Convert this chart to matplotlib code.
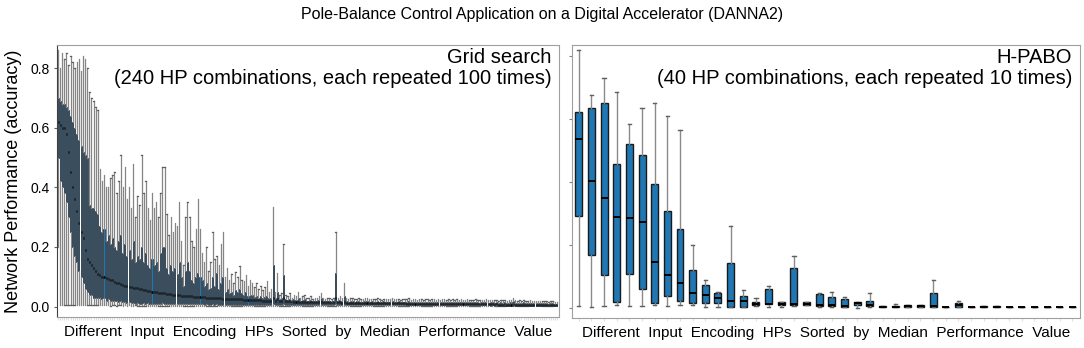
import matplotlib
matplotlib.use('Agg')
import matplotlib.pyplot as plt

plt.rcParams['font.family'] = ['Liberation Sans', 'DejaVu Sans']

# Grid search: 240 HP combinations (sorted by median)
grid_hi = [0.86, 0.80, 0.85, 0.83, 0.85, 0.81, 0.84, 0.82, 0.80, 0.82, 0.83, 0.79, 0.84, 0.83, 0.80, 0.72, 0.70, 0.69, 0.67, 0.66,
           0.46, 0.42, 0.44, 0.40, 0.40, 0.43, 0.44, 0.45, 0.38, 0.42, 0.51, 0.40, 0.47, 0.36, 0.40, 0.33, 0.48, 0.30, 0.37, 0.34,
           0.51, 0.38, 0.42, 0.33, 0.29, 0.38, 0.33, 0.35, 0.30, 0.38, 0.47, 0.47, 0.31, 0.24, 0.30, 0.25, 0.28, 0.27, 0.35, 0.22,
           0.14, 0.30, 0.35, 0.30, 0.22, 0.20, 0.26, 0.36, 0.26, 0.18, 0.15, 0.20, 0.12, 0.15, 0.25, 0.16, 0.17, 0.14, 0.21, 0.25,
           0.10, 0.13, 0.09, 0.11, 0.08, 0.115, 0.10, 0.137, 0.09, 0.085, 0.106, 0.07, 0.09, 0.08, 0.065, 0.078, 0.06, 0.07, 0.055, 0.065,
           0.086, 0.05, 0.06, 0.333, 0.05, 0.112, 0.04, 0.045, 0.21, 0.04, 0.035, 0.045, 0.03, 0.04, 0.035, 0.05, 0.03, 0.035, 0.04, 0.03,
           0.03, 0.035, 0.025, 0.03, 0.03, 0.035, 0.047, 0.03, 0.025, 0.03, 0.028, 0.025, 0.03, 0.25, 0.03, 0.035, 0.028, 0.078, 0.03, 0.025,
           0.028, 0.03, 0.025, 0.027, 0.03, 0.026, 0.024, 0.028, 0.03, 0.025, 0.027, 0.024, 0.026, 0.03, 0.025, 0.023, 0.027, 0.025, 0.024, 0.026,
           0.028, 0.024, 0.025, 0.027, 0.023, 0.026, 0.025, 0.024, 0.028, 0.023, 0.025, 0.026, 0.022, 0.025, 0.027, 0.023, 0.024, 0.026, 0.022, 0.024,
           0.025, 0.023, 0.026, 0.022, 0.024, 0.025, 0.023, 0.027, 0.022, 0.024, 0.023, 0.025, 0.022, 0.024, 0.023, 0.021, 0.025, 0.022, 0.023, 0.021,
           0.024, 0.022, 0.021, 0.023, 0.022, 0.024, 0.021, 0.022, 0.023, 0.021, 0.022, 0.020, 0.023, 0.021, 0.022, 0.020, 0.021, 0.022, 0.030, 0.021,
           0.020, 0.021, 0.019, 0.022, 0.020, 0.019, 0.021, 0.020, 0.019, 0.020, 0.018, 0.019, 0.020, 0.018, 0.019, 0.017, 0.018, 0.019, 0.017, 0.016]
grid_q3 = [0.70, 0.69, 0.68, 0.68, 0.67, 0.66, 0.64, 0.62, 0.60, 0.58, 0.56, 0.54, 0.52, 0.51, 0.50, 0.34, 0.33, 0.33, 0.32, 0.31,
           0.27, 0.25, 0.26, 0.22, 0.24, 0.21, 0.23, 0.20, 0.19, 0.22, 0.24, 0.18, 0.21, 0.17, 0.19, 0.16, 0.22, 0.15, 0.17, 0.16,
           0.20, 0.15, 0.18, 0.14, 0.13, 0.16, 0.14, 0.15, 0.12, 0.18, 0.20, 0.20, 0.13, 0.11, 0.14, 0.12, 0.13, 0.11, 0.15, 0.10,
           0.07, 0.12, 0.15, 0.12, 0.09, 0.08, 0.10, 0.114, 0.10, 0.09, 0.07, 0.08, 0.06, 0.062, 0.10, 0.07, 0.112, 0.06, 0.08, 0.10,
           0.05, 0.06, 0.045, 0.05, 0.04, 0.055, 0.05, 0.06, 0.045, 0.04, 0.05, 0.035, 0.04, 0.04, 0.032, 0.036, 0.03, 0.034, 0.03, 0.032,
           0.035, 0.03, 0.03, 0.14, 0.03, 0.05, 0.025, 0.028, 0.106, 0.025, 0.022, 0.027, 0.02, 0.025, 0.022, 0.03, 0.02, 0.022, 0.025, 0.02,
           0.02, 0.022, 0.018, 0.02, 0.02, 0.022, 0.028, 0.02, 0.018, 0.02, 0.018, 0.017, 0.02, 0.112, 0.02, 0.022, 0.018, 0.036, 0.02, 0.017,
           0.018, 0.02, 0.017, 0.018, 0.02, 0.017, 0.016, 0.018, 0.02, 0.017, 0.018, 0.016, 0.017, 0.019, 0.017, 0.016, 0.018, 0.017, 0.016, 0.017,
           0.018, 0.016, 0.017, 0.018, 0.015, 0.017, 0.016, 0.016, 0.018, 0.015, 0.016, 0.017, 0.015, 0.016, 0.017, 0.015, 0.016, 0.017, 0.015, 0.016,
           0.016, 0.015, 0.017, 0.014, 0.016, 0.016, 0.015, 0.017, 0.014, 0.015, 0.015, 0.016, 0.014, 0.015, 0.015, 0.014, 0.016, 0.014, 0.015, 0.014,
           0.015, 0.014, 0.013, 0.015, 0.014, 0.015, 0.013, 0.014, 0.015, 0.013, 0.014, 0.013, 0.014, 0.013, 0.014, 0.012, 0.013, 0.014, 0.018, 0.013,
           0.013, 0.013, 0.012, 0.014, 0.012, 0.012, 0.013, 0.012, 0.012, 0.012, 0.011, 0.012, 0.012, 0.011, 0.011, 0.010, 0.011, 0.011, 0.010, 0.010]
grid_med = [0.62, 0.61, 0.60, 0.60, 0.58, 0.52, 0.45, 0.40, 0.36, 0.32, 0.28, 0.25, 0.23, 0.19, 0.16, 0.15, 0.14, 0.13, 0.12, 0.11,
            0.105, 0.10, 0.098, 0.095, 0.092, 0.09, 0.088, 0.082, 0.08, 0.078, 0.075, 0.072, 0.07, 0.068, 0.066, 0.065, 0.064, 0.063, 0.062, 0.06,
            0.058, 0.056, 0.055, 0.053, 0.052, 0.05, 0.05, 0.048, 0.047, 0.046, 0.045, 0.044, 0.043, 0.042, 0.041, 0.04, 0.04, 0.039, 0.038, 0.037,
            0.036, 0.035, 0.035, 0.034, 0.034, 0.033, 0.033, 0.032, 0.032, 0.031, 0.031, 0.03, 0.03, 0.03, 0.029, 0.029, 0.028, 0.028, 0.028, 0.027,
            0.027, 0.026, 0.026, 0.025, 0.025, 0.025, 0.024, 0.024, 0.024, 0.023, 0.023, 0.023, 0.022, 0.022, 0.022, 0.021, 0.021, 0.021, 0.02, 0.02,
            0.02, 0.02, 0.02, 0.03, 0.019, 0.025, 0.019, 0.019, 0.03, 0.018, 0.018, 0.018, 0.018, 0.017, 0.017, 0.017, 0.017, 0.016, 0.016, 0.016,
            0.016, 0.016, 0.015, 0.015, 0.015, 0.015, 0.015, 0.015, 0.014, 0.014, 0.014, 0.014, 0.014, 0.03, 0.014, 0.014, 0.013, 0.015, 0.013, 0.013,
            0.013, 0.013, 0.013, 0.013, 0.013, 0.012, 0.012, 0.012, 0.012, 0.012, 0.012, 0.012, 0.012, 0.012, 0.012, 0.011, 0.011, 0.011, 0.011, 0.011,
            0.011, 0.011, 0.011, 0.011, 0.011, 0.011, 0.011, 0.010, 0.010, 0.010, 0.010, 0.010, 0.010, 0.010, 0.010, 0.010, 0.010, 0.010, 0.010, 0.010,
            0.010, 0.010, 0.010, 0.009, 0.009, 0.009, 0.009, 0.009, 0.009, 0.009, 0.009, 0.009, 0.009, 0.009, 0.009, 0.009, 0.009, 0.008, 0.008, 0.008,
            0.008, 0.008, 0.008, 0.008, 0.008, 0.008, 0.008, 0.008, 0.008, 0.008, 0.008, 0.007, 0.007, 0.007, 0.007, 0.007, 0.007, 0.007, 0.007, 0.007,
            0.007, 0.007, 0.007, 0.007, 0.007, 0.006, 0.006, 0.006, 0.006, 0.006, 0.006, 0.006, 0.006, 0.006, 0.006, 0.006, 0.005, 0.005, 0.005, 0.005]
grid_q1 = [0.50, 0.42, 0.40, 0.38, 0.35, 0.30, 0.25, 0.20, 0.17, 0.15, 0.12, 0.10, 0.08, 0.06, 0.05, 0.04, 0.04, 0.03, 0.03, 0.03,
           0.03, 0.025, 0.03, 0.02, 0.025, 0.02, 0.02, 0.018, 0.02, 0.015, 0.018, 0.015, 0.015, 0.012, 0.015, 0.012, 0.012, 0.01, 0.012, 0.01,
           0.010, 0.012, 0.010, 0.011, 0.010, 0.010, 0.009, 0.010, 0.009, 0.010, 0.011, 0.010, 0.009, 0.009, 0.010, 0.009, 0.009, 0.008, 0.009, 0.008,
           0.008, 0.009, 0.009, 0.008, 0.008, 0.008, 0.008, 0.009, 0.008, 0.008, 0.007, 0.008, 0.007, 0.007, 0.008, 0.007, 0.008, 0.007, 0.007, 0.007,
           0.007, 0.007, 0.007, 0.007, 0.007, 0.007, 0.007, 0.007, 0.007, 0.006, 0.007, 0.006, 0.006, 0.006, 0.006, 0.006, 0.006, 0.006, 0.006, 0.006,
           0.006, 0.006, 0.006, 0.008, 0.006, 0.007, 0.006, 0.006, 0.008, 0.006, 0.006, 0.006, 0.006, 0.006, 0.006, 0.006, 0.006, 0.006, 0.005, 0.005,
           0.005, 0.005, 0.005, 0.005, 0.005, 0.005, 0.005, 0.005, 0.005, 0.005, 0.005, 0.005, 0.005, 0.008, 0.005, 0.005, 0.005, 0.006, 0.005, 0.005,
           0.005, 0.005, 0.005, 0.005, 0.005, 0.005, 0.005, 0.005, 0.005, 0.005, 0.005, 0.005, 0.005, 0.005, 0.005, 0.005, 0.005, 0.005, 0.005, 0.005,
           0.005, 0.005, 0.005, 0.005, 0.004, 0.005, 0.004, 0.005, 0.004, 0.004, 0.005, 0.004, 0.004, 0.004, 0.005, 0.004, 0.004, 0.004, 0.004, 0.004,
           0.004, 0.004, 0.004, 0.004, 0.004, 0.004, 0.004, 0.004, 0.004, 0.004, 0.004, 0.004, 0.004, 0.004, 0.004, 0.004, 0.004, 0.004, 0.004, 0.004,
           0.004, 0.004, 0.004, 0.004, 0.004, 0.004, 0.004, 0.003, 0.004, 0.003, 0.004, 0.003, 0.003, 0.003, 0.004, 0.003, 0.003, 0.003, 0.004, 0.003,
           0.003, 0.003, 0.003, 0.003, 0.003, 0.003, 0.003, 0.003, 0.003, 0.003, 0.003, 0.003, 0.003, 0.003, 0.003, 0.003, 0.003, 0.003, 0.003, 0.003]
grid_lo = [0.20, 0.006, 0.004, 0.005, 0.004, 0.006, 0.005, 0.004, 0.005, 0.004, 0.005, 0.004, 0.006, 0.004, 0.005, 0.004, 0.005, 0.004, 0.004, 0.005,
           0.004, 0.004, 0.005, 0.004, 0.004, 0.003, 0.004, 0.004, 0.003, 0.004, 0.004, 0.003, 0.004, 0.003, 0.004, 0.003, 0.003, 0.004, 0.003, 0.003,
           0.003, 0.003, 0.003, 0.003, 0.003, 0.003, 0.003, 0.003, 0.003, 0.003, 0.003, 0.003, 0.003, 0.003, 0.003, 0.003, 0.003, 0.003, 0.003, 0.003,
           0.003, 0.003, 0.003, 0.003, 0.003, 0.003, 0.003, 0.003, 0.003, 0.003, 0.003, 0.003, 0.003, 0.003, 0.003, 0.003, 0.003, 0.003, 0.003, 0.003,
           0.003, 0.003, 0.003, 0.003, 0.003, 0.003, 0.003, 0.003, 0.003, 0.003, 0.003, 0.003, 0.003, 0.003, 0.003, 0.003, 0.003, 0.003, 0.003, 0.003,
           0.003, 0.003, 0.003, 0.003, 0.003, 0.003, 0.003, 0.003, 0.003, 0.003, 0.003, 0.003, 0.003, 0.003, 0.003, 0.003, 0.003, 0.003, 0.003, 0.003,
           0.002, 0.002, 0.002, 0.002, 0.002, 0.002, 0.002, 0.002, 0.002, 0.002, 0.002, 0.002, 0.002, 0.002, 0.002, 0.002, 0.002, 0.002, 0.002, 0.002,
           0.002, 0.002, 0.002, 0.002, 0.002, 0.002, 0.002, 0.002, 0.002, 0.002, 0.002, 0.002, 0.002, 0.002, 0.002, 0.002, 0.002, 0.002, 0.002, 0.002,
           0.002, 0.002, 0.002, 0.002, 0.002, 0.002, 0.002, 0.002, 0.002, 0.002, 0.002, 0.002, 0.002, 0.002, 0.002, 0.002, 0.002, 0.002, 0.002, 0.002,
           0.002, 0.002, 0.002, 0.002, 0.002, 0.002, 0.002, 0.002, 0.002, 0.002, 0.002, 0.002, 0.002, 0.002, 0.002, 0.002, 0.002, 0.002, 0.002, 0.002,
           0.001, 0.001, 0.001, 0.001, 0.001, 0.001, 0.001, 0.001, 0.001, 0.001, 0.001, 0.001, 0.001, 0.001, 0.001, 0.001, 0.001, 0.001, 0.001, 0.001,
           0.001, 0.001, 0.001, 0.001, 0.001, 0.001, 0.001, 0.001, 0.001, 0.001, 0.001, 0.001, 0.001, 0.001, 0.001, 0.001, 0.001, 0.001, 0.001, 0.001]

# H-PABO: 40 HP combinations (sorted by median)
pabo_hi = [0.82, 0.677, 0.73, 0.688, 0.585, 0.637, 0.65, 0.611, 0.566, 0.201,
           0.09, 0.053, 0.262, 0.058, 0.034, 0.071, 0.02, 0.166, 0.02, 0.048,
           0.051, 0.035, 0.021, 0.05, 0.008, 0.013, 0.01, 0.01, 0.09, 0.005,
           0.024, 0.004, 0.008, 0.008, 0.005, 0.004, 0.005, 0.004, 0.004, 0.004]
pabo_q3 = [0.624, 0.637, 0.65, 0.457, 0.522, 0.487, 0.394, 0.309, 0.252, 0.12,
           0.074, 0.05, 0.145, 0.039, 0.02, 0.062, 0.019, 0.128, 0.02, 0.045,
           0.035, 0.031, 0.019, 0.024, 0.007, 0.007, 0.01, 0.009, 0.05, 0.005,
           0.016, 0.004, 0.007, 0.007, 0.004, 0.004, 0.004, 0.004, 0.004, 0.004]
pabo_med = [0.537, 0.404, 0.351, 0.289, 0.287, 0.275, 0.146, 0.107, 0.081, 0.048,
            0.041, 0.032, 0.023, 0.023, 0.015, 0.015, 0.015, 0.014, 0.015, 0.01,
            0.01, 0.008, 0.016, 0.01, 0.005, 0.005, 0.006, 0.006, 0.008, 0.005,
            0.01, 0.004, 0.005, 0.005, 0.003, 0.003, 0.003, 0.003, 0.003, 0.003]
pabo_q1 = [0.294, 0.169, 0.106, 0.021, 0.11, 0.061, 0.016, 0.04, 0.023, 0.016,
           0.016, 0.018, 0.005, 0.005, 0.01, 0.013, 0.01, 0.012, 0.01, 0.006,
           0.008, 0.005, 0.01, 0.007, 0.003, 0.003, 0.003, 0.003, 0.005, 0.004,
           0.005, 0.003, 0.003, 0.003, 0.003, 0.003, 0.003, 0.003, 0.003, 0.003]
pabo_lo = [0.008, 0.005, 0.008, 0.01, 0.008, 0.006, 0.01, 0.008, 0.01, 0.01,
           0.005, 0.003, 0.004, 0.004, 0.006, 0.004, 0.004, 0.006, 0.009, 0.005,
           0.004, 0.004, 0.002, 0.005, 0.003, 0.003, 0.003, 0.003, 0.003, 0.004,
           0.005, 0.003, 0.003, 0.003, 0.003, 0.003, 0.003, 0.003, 0.003, 0.003]

xlabel = 'Different  Input  Encoding  HPs  Sorted  by  Median  Performance  Value'


def make_stats(lo, q1, med, q3, hi):
    return [dict(whislo=a, q1=b, med=c, q3=d, whishi=e)
            for a, b, c, d, e in zip(lo, q1, med, q3, hi)]


def draw(ax, stats, width, lw, whis_lw, edge, whis_col, med_lw):
    ax.bxp(stats, widths=width, showfliers=False, patch_artist=True, capwidths=0.25,
           boxprops=dict(facecolor='#1f77b4', edgecolor=edge, linewidth=lw),
           whiskerprops=dict(color=whis_col, linewidth=whis_lw),
           capprops=dict(color='#606060', linewidth=whis_lw),
           medianprops=dict(color='black', linewidth=med_lw))
    for s in ax.spines.values():
        s.set_color('#a0a0a0')
    ax.set_xticks(range(1, len(stats) + 1))
    ax.set_xticklabels([])
    ax.tick_params(axis='x', length=2, color='#e0e0e0')
    ax.set_xlabel(xlabel, fontsize=11, labelpad=0)


fig = plt.figure(figsize=(10.84, 3.48), dpi=100)
ax1 = fig.add_axes([0.0526, 0.089, 0.4631, 0.782])
ax2 = fig.add_axes([0.5277, 0.086, 0.4686, 0.785])

draw(ax1, make_stats(grid_lo, grid_q1, grid_med, grid_q3, grid_hi), 0.5, 0.45, 0.9, '#0a0f14', '#858585', 1.8)
ax1.set_xlim(0.5, 241)
ax1.set_ylim(-0.035, 0.878)
ax1.set_yticks([0.0, 0.2, 0.4, 0.6, 0.8])
ax1.set_yticklabels(['0.0', '0.2', '0.4', '0.6', '0.8'], fontsize=10)
ax1.tick_params(axis='y', length=2, color='#606060')
ax1.spines['left'].set_color('#404040')
ax1.set_ylabel('Network Performance (accuracy)', fontsize=13, labelpad=6)
ax1.text(0.985, 0.99, 'Grid search\n(240 HP combinations, each repeated 100 times)',
         transform=ax1.transAxes, ha='right', va='top', fontsize=14.5, linespacing=1.15)

draw(ax2, make_stats(pabo_lo, pabo_q1, pabo_med, pabo_q3, pabo_hi), 0.55, 1.0, 1.0, '#1a1a1a', '#8a8a8a', 1.4)
ax2.set_xlim(0.47, 40.6)
ax2.set_ylim(-0.031, 0.836)
ax2.set_yticks([0.0, 0.2, 0.4, 0.6, 0.8])
ax2.set_yticklabels([])
ax2.tick_params(axis='y', length=2, color='#808080')
ax2.text(0.985, 0.99, 'H-PABO\n(40 HP combinations, each repeated 10 times)',
         transform=ax2.transAxes, ha='right', va='top', fontsize=14.5, linespacing=1.15)

fig.suptitle('Pole-Balance Control Application on a Digital Accelerator (DANNA2)',
             fontsize=11.5, y=0.98)

fig.savefig('out.png', dpi=100)
